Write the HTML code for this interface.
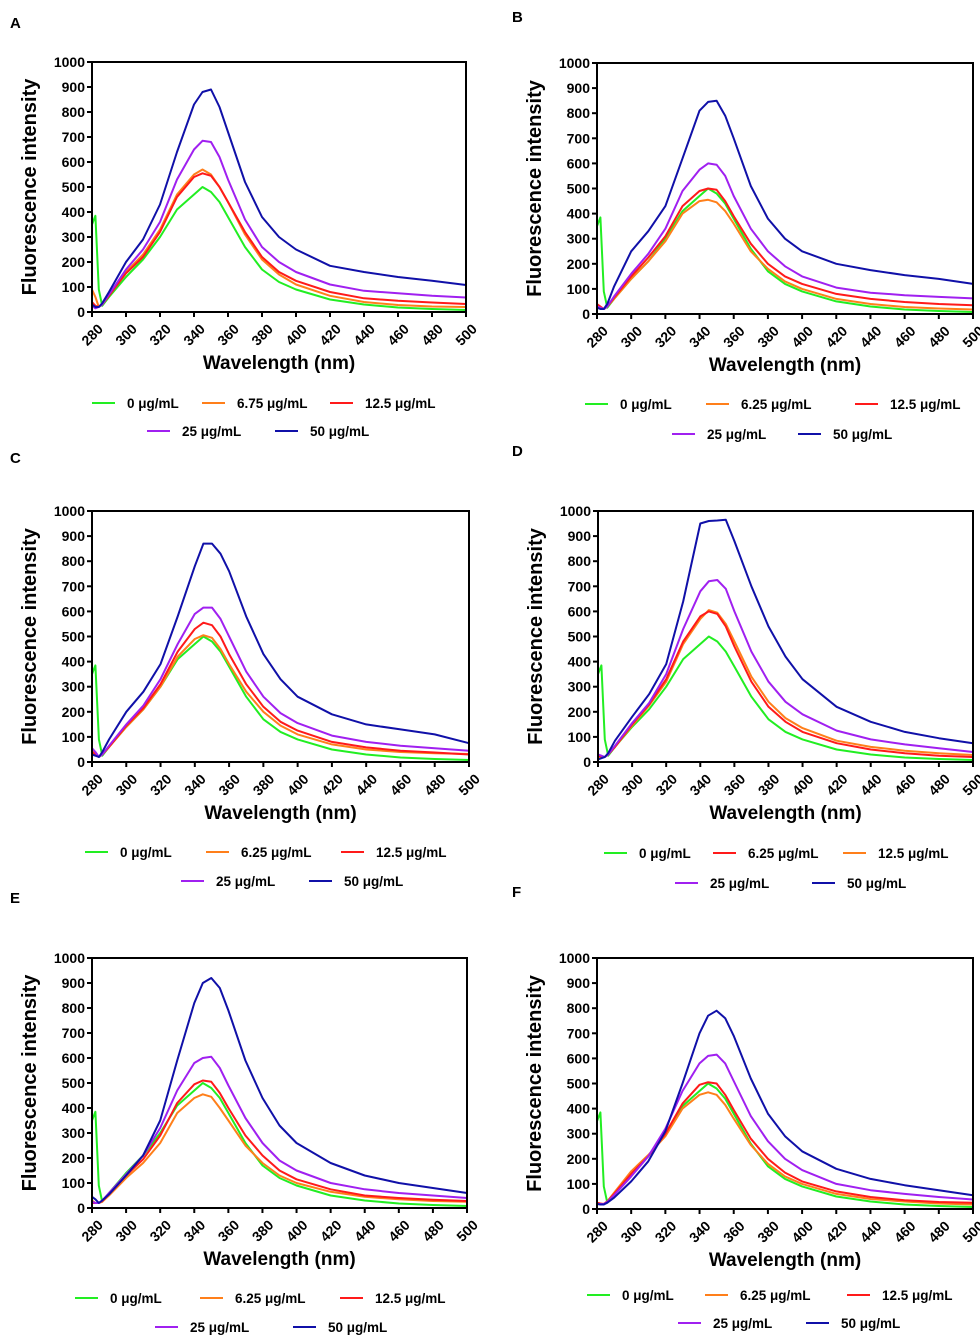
<!DOCTYPE html>
<html><head><meta charset="utf-8">
<style>
html,body{margin:0;padding:0;background:#fff;}
svg{display:block;font-family:"Liberation Sans",Arial,sans-serif;font-weight:bold;}
</style></head>
<body>
<svg id="fig" width="980" height="1339" viewBox="0 0 980 1339" xmlns="http://www.w3.org/2000/svg"></svg>
<script>
const wavelengths=[280,282,284,286,290,300,310,320,330,340,345,350,355,360,370,380,390,400,420,440,460,480,500];
const xTicks=[280,300,320,340,360,380,400,420,440,460,480,500];
const yTicks=[0,100,200,300,400,500,600,700,800,900,1000];
const green0=[350,385,90,25,60,140,210,300,410,470,500,480,440,380,260,170,120,90,50,30,18,12,8];
const aOrange=[90,60,20,30,70,160,230,330,470,550,570,550,500,440,310,210,150,110,65,40,28,22,20];
const aRed=[40,25,20,30,65,155,220,320,460,540,555,545,500,440,320,220,160,125,80,55,45,38,32];
const aPurple=[25,15,20,30,70,170,250,360,530,650,685,680,620,530,370,260,200,160,110,85,75,65,58];
const aBlue=[30,20,20,35,80,200,290,430,640,830,880,890,820,720,520,380,300,250,185,160,140,125,108];
const bOrange=[35,25,20,30,60,140,210,290,400,450,455,445,410,360,250,180,130,100,60,40,28,22,18];
const bRed=[40,30,20,30,65,150,225,310,430,490,500,495,450,390,280,200,150,120,80,60,48,40,35];
const bPurple=[30,25,20,30,70,160,240,340,490,575,600,595,550,470,340,250,190,150,105,85,75,68,62];
const bBlue=[25,20,20,40,110,250,330,430,620,810,845,850,790,700,510,380,300,250,200,175,155,140,120];
const cOrange=[50,35,20,30,60,140,210,300,420,490,505,495,450,390,280,200,145,110,70,50,40,35,32];
const cRed=[40,30,20,30,60,145,215,310,440,530,555,545,500,430,310,220,160,125,80,58,45,38,30];
const cPurple=[55,40,20,30,65,150,225,330,470,590,615,615,570,500,360,260,195,155,105,80,65,55,45];
const cBlue=[30,25,20,40,90,200,280,390,580,780,870,870,830,760,580,430,330,260,190,150,130,110,75];
const dRed=[25,22,20,30,60,150,230,330,480,580,600,590,540,460,320,220,160,120,75,50,35,25,20];
const dOrange=[20,20,20,30,60,145,225,320,470,570,605,595,550,480,340,240,175,135,85,60,45,35,28];
const dPurple=[30,25,20,30,65,155,235,350,530,680,720,725,690,600,440,320,240,190,125,90,70,55,40];
const dBlue=[10,15,20,35,85,180,270,390,640,950,960,962,965,880,700,540,420,330,220,160,120,95,75];
const eOrange=[30,20,20,25,50,120,180,260,380,440,455,445,400,350,250,180,130,100,65,45,35,28,25];
const eRed=[20,20,20,28,55,130,195,290,420,495,510,505,460,400,290,210,150,115,75,50,40,33,28];
const ePurple=[25,20,20,30,60,135,210,320,470,580,600,605,560,490,360,260,190,150,100,75,60,50,40];
const eBlue=[45,35,20,30,55,130,210,350,590,820,900,920,880,790,590,440,330,260,180,130,100,80,60];
const fOrange=[25,20,20,30,65,150,215,290,400,455,465,455,415,360,255,180,130,100,60,40,30,22,18];
const fRed=[25,22,20,30,60,140,210,300,420,495,505,500,455,395,280,200,145,110,70,48,35,28,25];
const fPurple=[20,20,20,28,55,130,210,320,470,580,610,615,580,510,370,270,200,155,100,75,60,48,38];
const fBlue=[20,18,18,25,45,110,190,310,500,700,770,790,760,690,520,380,290,230,160,120,95,75,55];

const C={g:'#22ee22',o:'#ff7f1a',r:'#ff1a1a',p:'#a020f0',b:'#1010a8'};
const panels=[
 {id:'a',letter:'A',lx:10,ly:28,x0:92,x1:466,y0:62,y1:312,
  series:[[green0,C.g],[aOrange,C.o],[aRed,C.r],[aPurple,C.p],[aBlue,C.b]],
  legend:[[92,403,C.g,'0 μg/mL'],[202,403,C.o,'6.75 μg/mL'],[330,403,C.r,'12.5 μg/mL'],[147,431,C.p,'25 μg/mL'],[275,431,C.b,'50 μg/mL']]},
 {id:'b',letter:'B',lx:512,ly:22,x0:597,x1:973,y0:63,y1:314,
  series:[[green0,C.g],[bOrange,C.o],[bRed,C.r],[bPurple,C.p],[bBlue,C.b]],
  legend:[[585,404,C.g,'0 μg/mL'],[706,404,C.o,'6.25 μg/mL'],[855,404,C.r,'12.5 μg/mL'],[672,434,C.p,'25 μg/mL'],[798,434,C.b,'50 μg/mL']]},
 {id:'c',letter:'C',lx:10,ly:463,x0:92,x1:469,y0:511,y1:762,
  series:[[green0,C.g],[cOrange,C.o],[cRed,C.r],[cPurple,C.p],[cBlue,C.b]],
  legend:[[85,852,C.g,'0 μg/mL'],[206,852,C.o,'6.25 μg/mL'],[341,852,C.r,'12.5 μg/mL'],[181,881,C.p,'25 μg/mL'],[309,881,C.b,'50 μg/mL']]},
 {id:'d',letter:'D',lx:512,ly:456,x0:598,x1:973,y0:511,y1:762,
  series:[[green0,C.g],[dOrange,C.o],[dRed,C.r],[dPurple,C.p],[dBlue,C.b]],
  legend:[[604,853,C.g,'0 μg/mL'],[713,853,C.r,'6.25 μg/mL'],[843,853,C.o,'12.5 μg/mL'],[675,883,C.p,'25 μg/mL'],[812,883,C.b,'50 μg/mL']]},
 {id:'e',letter:'E',lx:10,ly:903,x0:92,x1:467,y0:958,y1:1208,
  series:[[green0,C.g],[eOrange,C.o],[eRed,C.r],[ePurple,C.p],[eBlue,C.b]],
  legend:[[75,1298,C.g,'0 μg/mL'],[200,1298,C.o,'6.25 μg/mL'],[340,1298,C.r,'12.5 μg/mL'],[155,1327,C.p,'25 μg/mL'],[293,1327,C.b,'50 μg/mL']]},
 {id:'f',letter:'F',lx:512,ly:897,x0:597,x1:973,y0:958,y1:1209,
  series:[[green0,C.g],[fOrange,C.o],[fRed,C.r],[fPurple,C.p],[fBlue,C.b]],
  legend:[[587,1295,C.g,'0 μg/mL'],[705,1295,C.o,'6.25 μg/mL'],[847,1295,C.r,'12.5 μg/mL'],[678,1323,C.p,'25 μg/mL'],[806,1323,C.b,'50 μg/mL']]}
];
const NS='http://www.w3.org/2000/svg';
const svg=document.getElementById('fig');
function mk(tag,attrs,parent,text){const e=document.createElementNS(NS,tag);for(const k in attrs)e.setAttribute(k,attrs[k]);if(text!==undefined)e.textContent=text;parent.appendChild(e);return e;}
panels.forEach(P=>{
 const g=mk('g',{},svg);
 
 
 const sx=v=>P.x0+(v-280)/(500-280)*(P.x1-P.x0);
 const sy=v=>P.y1-v/1000*(P.y1-P.y0);
 const lt=mk('text',{x:P.lx,y:P.ly,'font-size':15},g,P.letter);
 
 
 P.series.forEach((s,i)=>{
  const d=wavelengths.map((w,j)=>(j?'L':'M')+sx(w).toFixed(1)+' '+sy(s[0][j]).toFixed(1)).join(' ');
  const p=mk('path',{d:d,fill:'none',stroke:s[1],'stroke-width':2,'stroke-linejoin':'round'},g);
  
  
 });
 const fr=mk('rect',{x:P.x0,y:P.y0,width:P.x1-P.x0,height:P.y1-P.y0,fill:'none',stroke:'#000','stroke-width':2},g);
 
 
 yTicks.forEach(v=>{
  const y=sy(v);
  mk('line',{x1:P.x0-5,x2:P.x0,y1:y,y2:y,stroke:'#000','stroke-width':2},g);
  const t=mk('text',{x:P.x0-7,y:y+5,'font-size':14,'text-anchor':'end'},g,String(v));
  
  
 });
 xTicks.forEach(v=>{
  const x=sx(v);
  mk('line',{x1:x,x2:x,y1:P.y1,y2:P.y1+5,stroke:'#000','stroke-width':2},g);
  const t=mk('text',{x:x+5,y:P.y1+11,'font-size':14,'text-anchor':'end',transform:`rotate(-45 ${x+5} ${P.y1+11})`,dy:'0.7em'},g,String(v));
  
  
 });
 const cx=(P.x0+P.x1)/2, cy=(P.y0+P.y1)/2;
 const xt=mk('text',{x:cx,y:P.y1+57,'font-size':19,'text-anchor':'middle'},g,'Wavelength (nm)');
 
 
 const ax=P.x0-63;
 const yt=mk('text',{x:ax,y:cy+7,'font-size':20,'text-anchor':'middle',transform:`rotate(-90 ${ax} ${cy})`},g,'Fluorescence intensity');
 
 
 P.legend.forEach(L=>{
  const lg=mk('g',{},g);
  
  
  mk('line',{x1:L[0],x2:L[0]+23,y1:L[1],y2:L[1],stroke:L[2],'stroke-width':2},lg);
  mk('text',{x:L[0]+35,y:L[1]+5,'font-size':13.5},lg,L[3]);
 });
});
</script>
</body></html>
